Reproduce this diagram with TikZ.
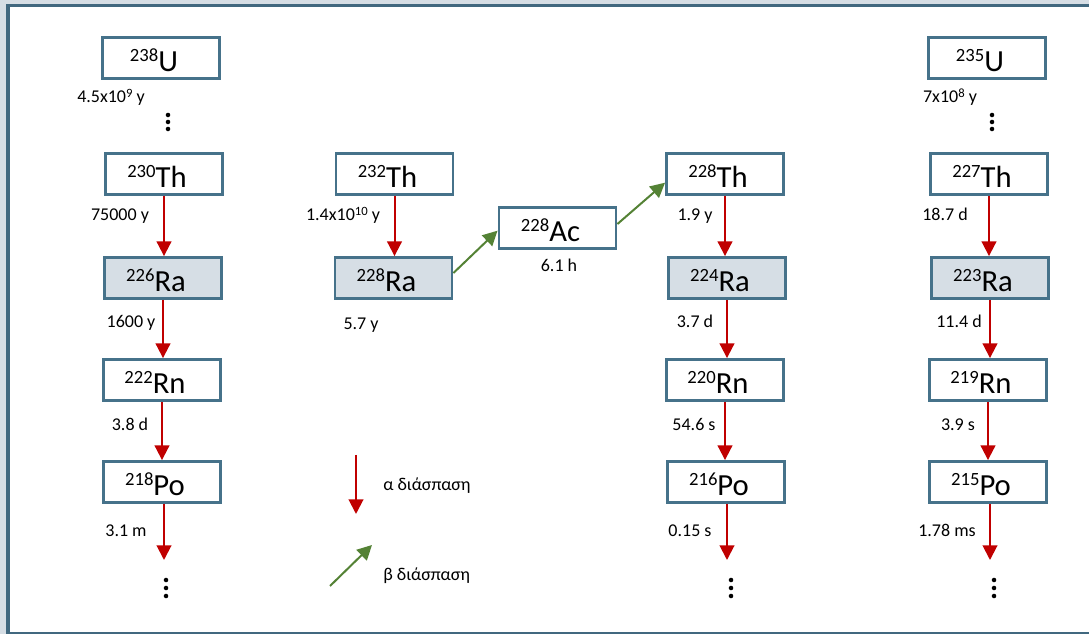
\documentclass[tikz,border=0pt]{standalone}
\usepackage{fontspec}
\setmainfont{Carlito}
\usetikzlibrary{arrows.meta}
\definecolor{frame}{HTML}{41687F}
\definecolor{boxline}{HTML}{46728A}
\definecolor{rafill}{HTML}{D6DEE5}
\definecolor{bgfill}{HTML}{D6DEE5}
\definecolor{alphared}{HTML}{C00000}
\definecolor{betagreen}{HTML}{548235}
\newcommand\nuc[2]{{\raisebox{7.6pt}{\fontsize{14}{14}\selectfont #1}#2\hspace*{10.5pt}}}
\newcommand\ex[1]{\raisebox{4pt}{\fontsize{9.5}{10}\selectfont #1}}
\tikzset{
  nucbox/.style={draw=boxline, line width=1.9pt, fill=white, minimum width=88pt, minimum height=31pt, inner sep=0pt, text height=20.5pt, text depth=0pt, font=\fontsize{23}{25}\selectfont},
  rabox/.style={nucbox, fill=rafill},
  hl/.style={anchor=base, inner sep=0pt, font=\fontsize{13.5}{15}\selectfont},
  legtext/.style={anchor=base west, inner sep=0pt, font=\fontsize{13.5}{15}\selectfont},
  alpha/.style={draw=alphared, line width=1.5pt, -{Triangle[width=11pt,length=11pt]}},
  beta/.style={draw=betagreen, line width=1.5pt, -{Triangle[width=11pt,length=11pt]}},
  vdot/.style={fill=black, draw=none, circle, minimum size=3.4pt, inner sep=0pt}
}
\begin{document}
\begin{tikzpicture}[x=0.75pt,y=-0.75pt]
\useasboundingbox (0,0) rectangle (1089,634);
\fill[bgfill] (0,0) rectangle (1089,634);
\draw[frame, line width=2.4pt, fill=white] (8,5.3) rectangle (1100,633.2);

% column 1
\node[nucbox] (U238) at (161,58) {\nuc{238}{U}};
\node[nucbox] (Th230) at (164,174) {\nuc{230}{Th}};
\node[rabox] (Ra226) at (163,278) {\nuc{226}{Ra}};
\node[nucbox] (Rn222) at (162,380) {\nuc{222}{Rn}};
\node[nucbox] (Po218) at (162,482) {\nuc{218}{Po}};
% column 2
\node[nucbox] (Th232) at (394.5,174) {\nuc{232}{Th}};
\node[rabox] (Ra228) at (393.5,278) {\nuc{228}{Ra}};
\node[nucbox] (Ac228) at (557.5,228) {\nuc{228}{Ac}};
% column 3
\node[nucbox] (Th228) at (725,174) {\nuc{228}{Th}};
\node[rabox] (Ra224) at (727,278) {\nuc{224}{Ra}};
\node[nucbox] (Rn220) at (725,380) {\nuc{220}{Rn}};
\node[nucbox] (Po216) at (726,482) {\nuc{216}{Po}};
% column 4
\node[nucbox] (U235) at (987,58) {\nuc{235}{U}};
\node[nucbox] (Th227) at (989,174) {\nuc{227}{Th}};
\node[rabox] (Ra223) at (990,278) {\nuc{223}{Ra}};
\node[nucbox] (Rn219) at (988,380) {\nuc{219}{Rn}};
\node[nucbox] (Po215) at (988,482) {\nuc{215}{Po}};

% end coordinates
\coordinate (e1) at (164,560);
\coordinate (e3) at (727,560);
\coordinate (e4) at (990,560);

% alpha arrows
\draw[alpha] (Th230.south) -- (Th230.south |- Ra226.north);
\draw[alpha] (Ra226.south) -- (Ra226.south |- Rn222.north);
\draw[alpha] (Rn222.south) -- (Rn222.south |- Po218.north);
\draw[alpha] (Po218.south -| e1) -- (e1);
\draw[alpha] (Th232.south) -- (Th232.south |- Ra228.north);
\draw[alpha] (Th228.south) -- (Th228.south |- Ra224.north);
\draw[alpha] (Ra224.south) -- (Ra224.south |- Rn220.north);
\draw[alpha] (Rn220.south) -- (Rn220.south |- Po216.north);
\draw[alpha] (Po216.south -| e3) -- (e3);
\draw[alpha] (Th227.south) -- (Th227.south |- Ra223.north);
\draw[alpha] (Ra223.south) -- (Ra223.south |- Rn219.north);
\draw[alpha] (Rn219.south) -- (Rn219.south |- Po215.north);
\draw[alpha] (Po215.south -| e4) -- (e4);

% beta arrows
\draw[beta] ([yshift=3.75pt]Ra228.east) -- ([yshift=-2pt]Ac228.west);
\draw[beta] ([yshift=3pt]Ac228.east) -- ([yshift=-6.5pt]Th228.west);

% half-lives
\node[hl] (h1) at (111,103) {4.5x10\ex{9} y};
\node[hl] (h2) at (120,221) {75000 y};
\node[hl] (h3) at (131,328) {1600 y};
\node[hl] (h4) at (130,431) {3.8 d};
\node[hl] (h5) at (126,536) {3.1 m};
\node[hl] (h6) at (343,221) {1.4x10\ex{10} y};
\node[hl] (h7) at (361,330) {5.7 y};
\node[hl] (h8) at (559,272) {6.1 h};
\node[hl] (h9) at (695,221) {1.9 y};
\node[hl] (h10) at (695,328) {3.7 d};
\node[hl] (h11) at (694,431) {54.6 s};
\node[hl] (h12) at (690,536) {0.15 s};
\node[hl] (h13) at (950,103) {7x10\ex{8} y};
\node[hl] (h14) at (945,221) {18.7 d};
\node[hl] (h15) at (959,328) {11.4 d};
\node[hl] (h16) at (958,431) {3.9 s};
\node[hl] (h17) at (947,536) {1.78 ms};

% vertical dots
\foreach \y [count=\i] in {115,122,129} {
  \node[vdot] (d1\i) at (168,\y) {};
  \node[vdot] (d4\i) at (992,\y) {};
}
\foreach \y [count=\i] in {580,588,596} {
  \node[vdot] (b1\i) at (166,\y) {};
  \node[vdot] (b3\i) at (731,\y) {};
  \node[vdot] (b4\i) at (994,\y) {};
}

% legend
\coordinate (la1) at (356,455);
\coordinate (la2) at (356,514);
\coordinate (lb1) at (330,586);
\coordinate (lb2) at (372,545);
\draw[alpha] (la1) -- (la2);
\draw[beta] (lb1) -- (lb2);
\node[legtext] (lta) at (383,490) {α διάσπαση};
\node[legtext] (ltb) at (383,580) {β διάσπαση};
\end{tikzpicture}
\end{document}
